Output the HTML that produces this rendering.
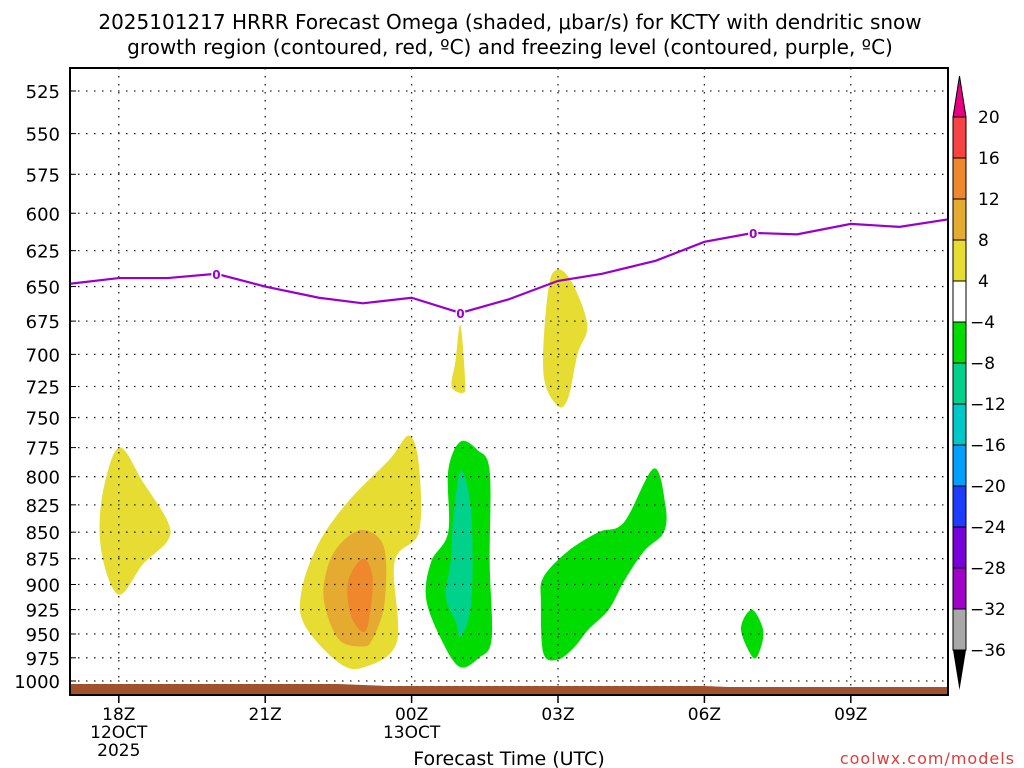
<!DOCTYPE html>
<html><head><meta charset="utf-8"><style>
body{margin:0;background:#fff;}
svg{display:block;font-family:"DejaVu Sans","Liberation Sans",sans-serif;}
</style></head><body>
<svg id="chart" width="1024" height="768" xmlns="http://www.w3.org/2000/svg">
<text x="510" y="29" font-size="20" text-anchor="middle">2025101217 HRRR Forecast Omega (shaded, μbar/s) for KCTY with dendritic snow</text>
<text x="510" y="54" font-size="20" text-anchor="middle">growth region (contoured, red, ºC) and freezing level (contoured, purple, ºC)</text>
<g id="plot"></g>
<text x="509" y="765" font-size="19" text-anchor="middle">Forecast Time (UTC)</text>
<text x="1015" y="764" font-size="16" fill="#e03c3c" text-anchor="end" letter-spacing="1">coolwx.com/models</text>
</svg>
<script>
const pressureTicks=[525,550,575,600,625,650,675,700,725,750,775,800,825,850,875,900,925,950,975,1000];
const timeTicks=[18,21,24,27,30,33];
const timeLabels=[["18Z","12OCT","2025"],["21Z"],["00Z","13OCT"],["03Z"],["06Z"],["09Z"]];
const freezeHours=[17,18,19,20,21,22.1,23,24,25,26,27,27.9,29,30,31,31.9,33,34,35];
const freezeP=[648,644,644,641,650,658,662,658,669,659,646,641,632,619,613,614,607,609,604];
const freezeLabelHours=[20,25,31];
const freezeLabelP=[641,669,613];
const cbLabels=["20","16","12","8","4","−4","−8","−12","−16","−20","−24","−28","−32","−36"];
const cbColors=["#f74343","#ef872d","#e5aa30","#e6dc32","#ffffff","#00dc00","#00d28c","#00c8c8","#00a0ff","#1e3cff","#7800dc","#a000c8","#a8a8a8"];
const blobYellow1=[[18,775],[18.5,805],[19,840],[19,858],[18.5,880],[18,910],[17.65,870],[17.65,820]];
const blobYellow2=[[23.95,765],[24.15,790],[24.15,850],[23.65,878],[23.7,958],[23.03,985],[22.5,980],[21.8,940],[21.75,905],[22.1,860],[22.7,822],[23.55,785]];
const blobDkYellow=[[23.03,848],[23.44,865],[23.44,920],[23.2,955],[23,963],[22.5,955],[22.2,915],[22.3,880],[22.6,858]];
const blobOrange=[[23,875],[23.2,893],[23.13,935],[23,948],[22.75,930],[22.7,897]];
const blobYellow3=[[25.0,678],[25.1,722],[25.05,730],[24.82,725],[24.9,705]];
const blobYellow4=[[27.0,638],[27.3,648],[27.6,678],[27.4,700],[27.2,735],[26.98,740],[26.7,714],[26.8,652]];
const blobGreen1=[[25.0,770],[25.35,777],[25.6,795],[25.6,878],[25.64,955],[25.38,975],[25.0,985],[24.65,960],[24.3,915],[24.4,878],[24.75,850],[24.75,795]];
const blobTeal=[[25,795],[25.2,822],[25.25,878],[25.2,927],[25,953],[24.9,937],[24.7,912],[24.8,878],[24.85,840]];
const blobGreen2=[[28.96,793],[29.2,825],[29.17,850],[28.76,868],[28.35,897],[28.04,925],[27.63,945],[27.33,964],[27.0,977],[26.7,970],[26.65,917],[26.7,893],[27.2,868],[27.83,850],[28.35,841]];
const blobGreen3=[[30.97,925],[31.2,945],[31.15,965],[31,975],[30.75,945]];

const X0=70,X1=948,Y0=68,Y1=695;
const xs=h=>X0+(h-17)*48.8;
const ys=p=>91+915.6*Math.log(p/525);
const NS="http://www.w3.org/2000/svg";
const g=document.getElementById('plot');
function mk(t,a){const e=document.createElementNS(NS,t);for(const k in a)e.setAttribute(k,a[k]);g.appendChild(e);return e;}
function poly(pts,fill,name){const e=mk('path',{d:smooth(pts.map(q=>[xs(q[0]),ys(q[1])])),fill:fill});

}
function smooth(P){let n=P.length,d='';for(let i=0;i<n;i++){const p0=P[(i-1+n)%n],p1=P[i],p2=P[(i+1)%n],p3=P[(i+2)%n];
if(i==0)d+='M'+p1[0]+','+p1[1];
const c1=[p1[0]+(p2[0]-p0[0])/6,p1[1]+(p2[1]-p0[1])/6],c2=[p2[0]-(p3[0]-p1[0])/6,p2[1]-(p3[1]-p1[1])/6];
d+='C'+c1+' '+c2+' '+p2;}return d+'Z';}
// shading
poly(blobYellow1,'#e6dc32','omega-area-18z');
poly(blobYellow2,'#e6dc32','omega-area-23z');
poly(blobDkYellow,'#e5aa30','omega-area-23z-8');
poly(blobOrange,'#ef872d','omega-area-23z-12');
poly(blobYellow3,'#e6dc32','omega-area-01z');
poly(blobYellow4,'#e6dc32','omega-area-03z');
poly(blobGreen1,'#00dc00','omega-area-01z-neg');
poly(blobTeal,'#00d28c','omega-area-01z-neg8');
poly(blobGreen2,'#00dc00','omega-area-04z-neg');
poly(blobGreen3,'#00dc00','omega-area-07z-neg');
// grid
pressureTicks.forEach(p=>{const y=ys(p);
const l=mk('line',{x1:X0,x2:X1,y1:y,y2:y,stroke:'#222','stroke-dasharray':'1.5 6.5','stroke-width':1.3});


const t=mk('text',{x:60,y:y+7,'font-size':18,'text-anchor':'end'});t.textContent=p;


mk('line',{x1:X0,x2:X0+6,y1:y,y2:y,stroke:'#000'});});
timeTicks.forEach((h,i)=>{const x=xs(h);
const l=mk('line',{x1:x,x2:x,y1:Y0,y2:Y1,stroke:'#222','stroke-dasharray':'1.5 6.5','stroke-width':1.3});


mk('line',{x1:x,x2:x,y1:Y1,y2:Y1+8,stroke:'#000','stroke-width':1.5});
timeLabels[i].forEach((s,j)=>{const t=mk('text',{x:x,y:720+j*18,'font-size':17,'text-anchor':'middle'});t.textContent=s;

});});
// ground
const gr=mk('path',{d:`M${X0},684 L${xs(22.5)},684 L${xs(23.5)},686 L${xs(30)},686 L${xs(30.5)},687 L${X1},687 L${X1},694 L${X0},694Z`,fill:'#a0522d'});


// freezing line
const fl=mk('polyline',{points:freezeHours.map((h,i)=>xs(h)+','+ys(freezeP[i])).join(' '),fill:'none',stroke:'#9a00cc','stroke-width':2.2});


freezeLabelHours.forEach((h,i)=>{const t=mk('text',{x:xs(h),y:ys(freezeLabelP[i])+5,'font-size':12,'font-weight':'bold',fill:'#9a00cc','text-anchor':'middle',stroke:'#fff','stroke-width':3,'paint-order':'stroke'});t.textContent='0';

});
// frame
const fr=mk('rect',{x:X0,y:Y0,width:X1-X0,height:Y1-Y0,fill:'none',stroke:'#000','stroke-width':2});


// colorbar
const CX=953,CW=13,CT=117,CH=41;
const tu=mk('polygon',{points:`${CX},${CT} ${CX+CW},${CT} ${CX+CW/2},76`,fill:'#e6007f',stroke:'#000'});


cbColors.forEach((c,i)=>{const r=mk('rect',{x:CX,y:CT+i*CH,width:CW,height:CH,fill:c,stroke:'#000'});

});
const td=mk('polygon',{points:`${CX},${CT+13*CH} ${CX+CW},${CT+13*CH} ${CX+CW/2},690`,fill:'#000'});


cbLabels.forEach((s,i)=>{const t=mk('text',{x:s[0]=='−'?970:978,y:CT+i*CH+6,'font-size':17});t.textContent=s;

});
</script>
</body></html>
